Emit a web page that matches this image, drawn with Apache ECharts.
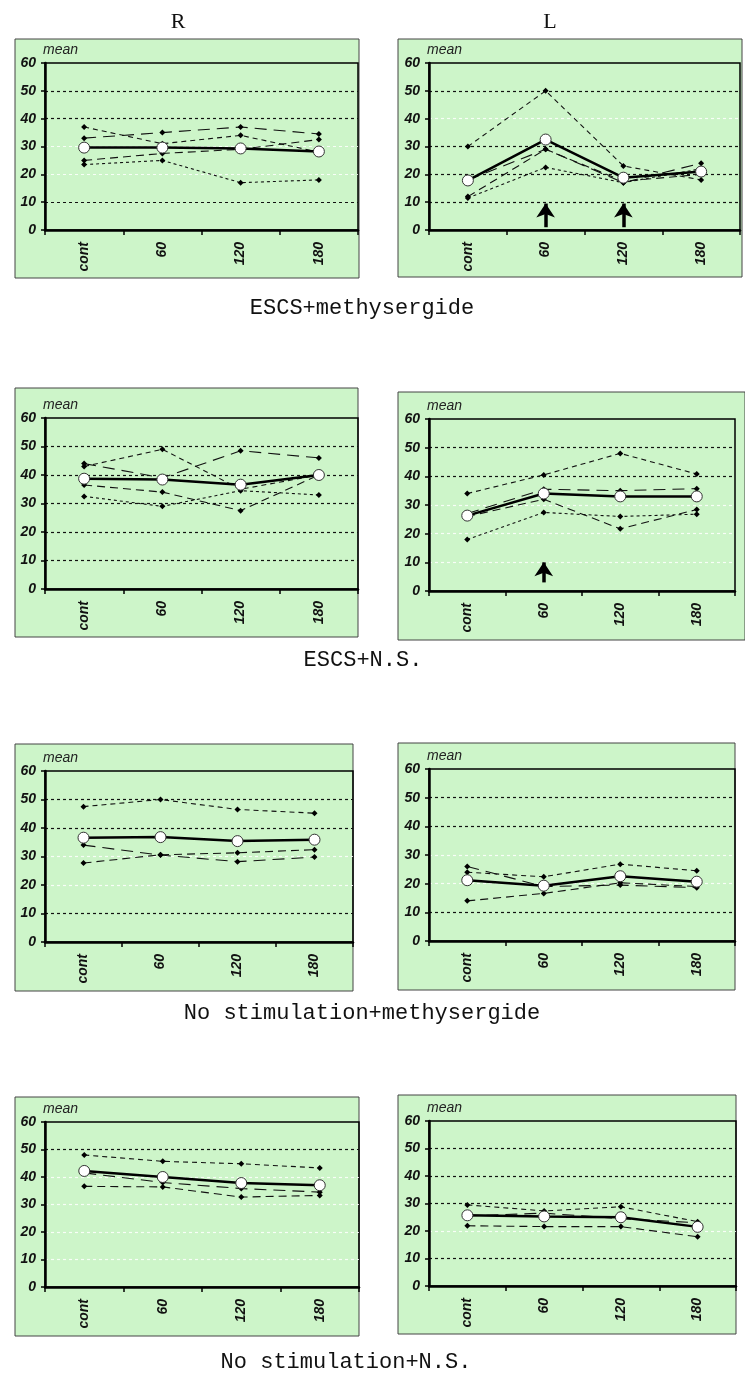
<!DOCTYPE html>
<html>
<head>
<meta charset="utf-8">
<script src="https://cdn.jsdelivr.net/npm/echarts@6/dist/echarts.min.js"></script>
<style>
html, body { margin: 0; padding: 0; background: #fff; }
#chart { width: 745px; height: 1378px; }
</style>
</head>
<body>
<div id="chart"></div>
<script>
const categories = ['cont', '60', '120', '180'];
const sideLabels = ['R', 'L'];
const captions = ['ESCS+methysergide', 'ESCS+N.S.', 'No stimulation+methysergide', 'No stimulation+N.S.'];

// ESCS+methysergide
const escsMethyR = [[37, 31, 34, 28], [33, 35, 37, 34.5], [25, 27.5, 29, 32.5], [23.5, 25, 17, 18]];
const escsMethyRMean = [29.6, 29.6, 29.3, 28.2];
const escsMethyL = [[30, 50, 23, 18], [18, 29, 17, 24], [12, 29, 17.5, 20], [11.5, 22.5, 17, 22]];
const escsMethyLMean = [17.8, 32.5, 18.8, 21];
const escsMethyLArrows = [['60', 1, 12], ['120', 1, 12]];

// ESCS+N.S.
const escsNsR = [[43, 49, 35, 40], [44, 39, 48.5, 46], [36.5, 34, 27.5, 40], [32.5, 29, 34.5, 33]];
const escsNsRMean = [38.7, 38.4, 36.6, 40];
const escsNsL = [[34, 40.5, 48, 40.8], [27, 35.5, 35, 35.7], [26, 32, 21.7, 28.4], [18, 27.4, 26, 26.8]];
const escsNsLMean = [26.3, 34, 33, 33];
const escsNsLArrows = [['60', 3, 12.5]];

// No stimulation+methysergide
const noStimMethyR = [[47.5, 50, 46.5, 45.2], [34, 30.5, 28.2, 29.8], [27.7, 30.6, 31.3, 32.4]];
const noStimMethyRMean = [36.6, 36.8, 35.4, 35.9];
const noStimMethyL = [[24, 22.4, 26.8, 24.5], [26, 19, 19.5, 18.6], [14, 16.6, 20.3, 19]];
const noStimMethyLMean = [21.2, 19.3, 22.6, 20.7];

// No stimulation+N.S.
const noStimNsR = [[48, 45.7, 44.8, 43.3], [41.5, 38, 35.8, 34.5], [36.6, 36.4, 32.7, 33.3]];
const noStimNsRMean = [42.2, 40, 37.8, 37];
const noStimNsL = [[29.5, 27.3, 28.8, 23.4], [25.5, 26.5, 24.5, 23], [21.9, 21.6, 21.6, 17.9]];
const noStimNsLMean = [25.7, 25.3, 25, 21.5];

// frame: x, y, w, h   plot: left, top, width, height   faint: pale gridlines
const panels = [
	{ lines: escsMethyR, mean: escsMethyRMean, arrows: [], frame: [15, 39, 344, 239], plot: [45, 63, 313, 167], faint: [20, 30] },
	{ lines: escsMethyL, mean: escsMethyLMean, arrows: escsMethyLArrows, frame: [398, 39, 344, 238], plot: [429, 63, 311, 167], faint: [40] },
	{ lines: escsNsR, mean: escsNsRMean, arrows: [], frame: [15, 388, 343, 249], plot: [45, 418, 313, 171], faint: [] },
	{ lines: escsNsL, mean: escsNsLMean, arrows: escsNsLArrows, frame: [398, 392, 347, 248], plot: [429, 419, 306, 172], faint: [10, 20, 30] },
	{ lines: noStimMethyR, mean: noStimMethyRMean, arrows: [], frame: [15, 744, 338, 247], plot: [45, 771, 308, 171], faint: [20, 30] },
	{ lines: noStimMethyL, mean: noStimMethyLMean, arrows: [], frame: [398, 743, 337, 247], plot: [429, 769, 306, 172], faint: [20, 30] },
	{ lines: noStimNsR, mean: noStimNsRMean, arrows: [], frame: [15, 1097, 344, 239], plot: [45, 1122, 314, 165], faint: [10, 20, 30, 40] },
	{ lines: noStimNsL, mean: noStimNsLMean, arrows: [], frame: [398, 1095, 338, 239], plot: [429, 1121, 307, 165], faint: [20] }
];

const dashes = [[5, 4], [12, 7], [8, 5], [3, 3]];
const tickFont = { fontFamily: 'Liberation Sans', fontStyle: 'italic', fontWeight: 'bold', fontSize: 14, color: '#111' };

let grid = [], xAxis = [], yAxis = [], series = [], graphic = [];

panels.forEach((p, i) => {
	graphic.push({
		type: 'rect', z: -10, silent: true,
		shape: { x: p.frame[0], y: p.frame[1], width: p.frame[2], height: p.frame[3] },
		style: { fill: '#cdf5c9', stroke: '#444', lineWidth: 1 }
	});
	grid.push({
		left: p.plot[0], top: p.plot[1], width: p.plot[2], height: p.plot[3],
		show: true, backgroundColor: 'transparent', borderColor: '#000', borderWidth: 1.5
	});
	xAxis.push({
		type: 'category', gridIndex: i, data: categories, boundaryGap: true,
		axisLine: { lineStyle: { color: '#000', width: 2.5 } },
		axisTick: { show: true, interval: 0, length: 5, lineStyle: { color: '#000', width: 1.5 } },
		axisLabel: Object.assign({ rotate: 90, margin: 12, interval: 0 }, tickFont),
		splitLine: { show: false }
	});
	yAxis.push({
		type: 'value', gridIndex: i, min: 0, max: 60, interval: 10,
		name: 'mean', nameLocation: 'end', nameGap: 6,
		nameTextStyle: { fontFamily: 'Liberation Sans', fontStyle: 'italic', fontSize: 14, color: '#222', align: 'left', padding: [0, 0, 0, -2] },
		axisLine: { show: true, lineStyle: { color: '#000', width: 2.5 } },
		axisTick: { show: true, length: 4, lineStyle: { color: '#000', width: 1.5 } },
		axisLabel: Object.assign({ margin: 9 }, tickFont),
		splitLine: {
			show: true,
			lineStyle: {
				type: [3, 3], width: 1.2,
				color: [0, 10, 20, 30, 40, 50, 60].map(v => (v === 0 || v === 60) ? 'rgba(0,0,0,0)' : (p.faint.includes(v) ? 'rgba(255,255,255,0.85)' : '#111'))
			}
		}
	});
	p.lines.forEach((d, k) => {
		series.push({
			type: 'line', xAxisIndex: i, yAxisIndex: i, data: d, z: 3,
			symbol: 'diamond', symbolSize: 6, itemStyle: { color: '#000' },
			lineStyle: { color: '#111', width: 1.1, type: dashes[k % dashes.length] }
		});
	});
	series.push({
		type: 'line', xAxisIndex: i, yAxisIndex: i, data: p.mean, z: 5,
		symbol: 'circle', symbolSize: 11,
		itemStyle: { color: '#fff', borderColor: '#333', borderWidth: 1 },
		lineStyle: { color: '#000', width: 2.5 },
		markLine: {
			silent: true, symbol: ['none', 'arrow'], symbolSize: 14,
			label: { show: false },
			lineStyle: { color: '#000', width: 3.5, type: 'solid' },
			data: p.arrows.map(a => [{ coord: [a[0], a[1]] }, { coord: [a[0], a[2] - 2.5] }])
		}
	});
});

const captionPos = [[362, 308], [363, 660], [362, 1013], [346, 1362]];
let title = sideLabels.map((t, k) => ({
	text: t, left: k === 0 ? 178 : 550, top: 22, padding: 0,
	textAlign: 'center', textVerticalAlign: 'middle',
	textStyle: { fontFamily: 'Liberation Serif', fontSize: 22, fontWeight: 'normal', color: '#111' }
}));
captions.forEach((c, k) => {
	title.push({
		text: c, left: captionPos[k][0], top: captionPos[k][1], padding: 0,
		textAlign: 'center', textVerticalAlign: 'middle',
		textStyle: { fontFamily: 'Liberation Mono', fontSize: 22, fontWeight: 'normal', color: '#111' }
	});
});

let chart = echarts.init(document.getElementById('chart'));
chart.setOption({
	animation: false,
	title,
	graphic,
	grid,
	xAxis,
	yAxis,
	series
});
</script>
</body>
</html>
